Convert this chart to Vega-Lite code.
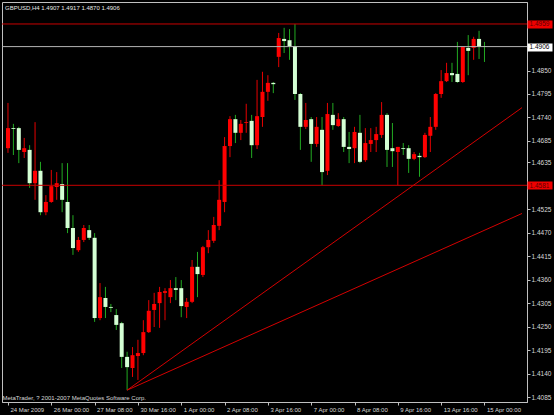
{
  "$schema": "https://vega.github.io/schema/vega-lite/v6.json",
  "width": 525,
  "height": 400,
  "autosize": "none",
  "padding": {"left": 2, "top": 2, "right": 27, "bottom": 13},
  "background": "#000000",
  "config": {
    "view": {"stroke": "#c0c0c0", "strokeWidth": 1, "fill": "#000000"},
    "font": "Liberation Sans"
  },
  "title": {
    "text": "GBPUSD,H4  1.4907 1.4917 1.4870 1.4906",
    "anchor": "start",
    "frame": "group",
    "baseline": "top",
    "offset": -9,
    "dx": 3,
    "font": "Liberation Sans",
    "fontSize": 6,
    "fontWeight": "normal",
    "color": "#e6e6e6"
  },
  "resolve": {"axis": {"y": "independent"}},
  "datasets": {
    "candles": [
      {"i": 0, "open": 1.4668, "high": 1.4774, "low": 1.4657, "close": 1.4715},
      {"i": 1, "open": 1.4715, "high": 1.4725, "low": 1.4652, "close": 1.4713},
      {"i": 2, "open": 1.4715, "high": 1.4718, "low": 1.4633, "close": 1.4664},
      {"i": 3, "open": 1.4659, "high": 1.4692, "low": 1.4645, "close": 1.4668},
      {"i": 4, "open": 1.4664, "high": 1.4675, "low": 1.4575, "close": 1.4586},
      {"i": 5, "open": 1.4586, "high": 1.4729, "low": 1.4547, "close": 1.4615},
      {"i": 6, "open": 1.4615, "high": 1.4636, "low": 1.4511, "close": 1.4518},
      {"i": 7, "open": 1.4518, "high": 1.4558, "low": 1.4511, "close": 1.4542},
      {"i": 8, "open": 1.4542, "high": 1.4617, "low": 1.4540, "close": 1.4579},
      {"i": 9, "open": 1.4577, "high": 1.4612, "low": 1.4547, "close": 1.4586},
      {"i": 10, "open": 1.4584, "high": 1.4633, "low": 1.4518, "close": 1.4547},
      {"i": 11, "open": 1.4542, "high": 1.4633, "low": 1.4469, "close": 1.4481},
      {"i": 12, "open": 1.4481, "high": 1.4511, "low": 1.4418, "close": 1.4434},
      {"i": 13, "open": 1.4429, "high": 1.4460, "low": 1.4425, "close": 1.4453},
      {"i": 14, "open": 1.4453, "high": 1.4488, "low": 1.4448, "close": 1.4481},
      {"i": 15, "open": 1.4476, "high": 1.4488, "low": 1.4453, "close": 1.4458},
      {"i": 16, "open": 1.4458, "high": 1.4469, "low": 1.4261, "close": 1.4270},
      {"i": 17, "open": 1.4270, "high": 1.4352, "low": 1.4265, "close": 1.4319},
      {"i": 18, "open": 1.4317, "high": 1.4343, "low": 1.4270, "close": 1.4296},
      {"i": 19, "open": 1.4296, "high": 1.4303, "low": 1.4284, "close": 1.4294},
      {"i": 20, "open": 1.4277, "high": 1.4291, "low": 1.4242, "close": 1.4254},
      {"i": 21, "open": 1.4258, "high": 1.4261, "low": 1.4153, "close": 1.4179},
      {"i": 22, "open": 1.4179, "high": 1.4191, "low": 1.4101, "close": 1.4155},
      {"i": 23, "open": 1.4153, "high": 1.4202, "low": 1.4132, "close": 1.4183},
      {"i": 24, "open": 1.4181, "high": 1.4219, "low": 1.4125, "close": 1.4188},
      {"i": 25, "open": 1.4188, "high": 1.4265, "low": 1.4183, "close": 1.4237},
      {"i": 26, "open": 1.4237, "high": 1.4312, "low": 1.4235, "close": 1.4287},
      {"i": 27, "open": 1.4289, "high": 1.4329, "low": 1.4249, "close": 1.4303},
      {"i": 28, "open": 1.4305, "high": 1.4343, "low": 1.4247, "close": 1.4331},
      {"i": 29, "open": 1.4329, "high": 1.4340, "low": 1.4265, "close": 1.4333},
      {"i": 30, "open": 1.4319, "high": 1.4359, "low": 1.4305, "close": 1.4340},
      {"i": 31, "open": 1.4340, "high": 1.4366, "low": 1.4312, "close": 1.4336},
      {"i": 32, "open": 1.4340, "high": 1.4359, "low": 1.4272, "close": 1.4298},
      {"i": 33, "open": 1.4296, "high": 1.4317, "low": 1.4270, "close": 1.4308},
      {"i": 34, "open": 1.4308, "high": 1.4406, "low": 1.4305, "close": 1.4390},
      {"i": 35, "open": 1.4390, "high": 1.4425, "low": 1.4319, "close": 1.4373},
      {"i": 36, "open": 1.4371, "high": 1.4439, "low": 1.4366, "close": 1.4436},
      {"i": 37, "open": 1.4436, "high": 1.4476, "low": 1.4422, "close": 1.4453},
      {"i": 38, "open": 1.4451, "high": 1.4507, "low": 1.4446, "close": 1.4488},
      {"i": 39, "open": 1.4486, "high": 1.4593, "low": 1.4476, "close": 1.4547},
      {"i": 40, "open": 1.4542, "high": 1.4694, "low": 1.4518, "close": 1.4673},
      {"i": 41, "open": 1.4673, "high": 1.4743, "low": 1.4647, "close": 1.4736},
      {"i": 42, "open": 1.4736, "high": 1.4746, "low": 1.4680, "close": 1.4704},
      {"i": 43, "open": 1.4704, "high": 1.4734, "low": 1.4687, "close": 1.4725},
      {"i": 44, "open": 1.4727, "high": 1.4772, "low": 1.4704, "close": 1.4729},
      {"i": 45, "open": 1.4732, "high": 1.4746, "low": 1.4645, "close": 1.4675},
      {"i": 46, "open": 1.4675, "high": 1.4828, "low": 1.4666, "close": 1.4743},
      {"i": 47, "open": 1.4741, "high": 1.4847, "low": 1.4718, "close": 1.4800},
      {"i": 48, "open": 1.4800, "high": 1.4839, "low": 1.4779, "close": 1.4821},
      {"i": 49, "open": 1.4821, "high": 1.4823, "low": 1.4797, "close": 1.4818},
      {"i": 50, "open": 1.4882, "high": 1.4938, "low": 1.4858, "close": 1.4926},
      {"i": 51, "open": 1.4924, "high": 1.4950, "low": 1.4891, "close": 1.4919},
      {"i": 52, "open": 1.4921, "high": 1.4947, "low": 1.4875, "close": 1.4907},
      {"i": 53, "open": 1.4907, "high": 1.4959, "low": 1.4781, "close": 1.4795},
      {"i": 54, "open": 1.4795, "high": 1.4797, "low": 1.4664, "close": 1.4718},
      {"i": 55, "open": 1.4718, "high": 1.4774, "low": 1.4713, "close": 1.4734},
      {"i": 56, "open": 1.4736, "high": 1.4741, "low": 1.4636, "close": 1.4678},
      {"i": 57, "open": 1.4678, "high": 1.4741, "low": 1.4671, "close": 1.4718},
      {"i": 58, "open": 1.4711, "high": 1.4741, "low": 1.4581, "close": 1.4612},
      {"i": 59, "open": 1.4615, "high": 1.4774, "low": 1.4605, "close": 1.4748},
      {"i": 60, "open": 1.4746, "high": 1.4774, "low": 1.4711, "close": 1.4722},
      {"i": 61, "open": 1.4720, "high": 1.4750, "low": 1.4718, "close": 1.4736},
      {"i": 62, "open": 1.4736, "high": 1.4741, "low": 1.4659, "close": 1.4671},
      {"i": 63, "open": 1.4671, "high": 1.4706, "low": 1.4633, "close": 1.4666},
      {"i": 64, "open": 1.4668, "high": 1.4718, "low": 1.4633, "close": 1.4706},
      {"i": 65, "open": 1.4704, "high": 1.4746, "low": 1.4633, "close": 1.4636},
      {"i": 66, "open": 1.4640, "high": 1.4715, "low": 1.4636, "close": 1.4680},
      {"i": 67, "open": 1.4678, "high": 1.4715, "low": 1.4659, "close": 1.4687},
      {"i": 68, "open": 1.4687, "high": 1.4718, "low": 1.4659, "close": 1.4701},
      {"i": 69, "open": 1.4699, "high": 1.4776, "low": 1.4692, "close": 1.4746},
      {"i": 70, "open": 1.4746, "high": 1.4750, "low": 1.4624, "close": 1.4664},
      {"i": 71, "open": 1.4668, "high": 1.4727, "low": 1.4624, "close": 1.4661},
      {"i": 72, "open": 1.4659, "high": 1.4671, "low": 1.4581, "close": 1.4671},
      {"i": 73, "open": 1.4668, "high": 1.4680, "low": 1.4652, "close": 1.4666},
      {"i": 74, "open": 1.4668, "high": 1.4675, "low": 1.4610, "close": 1.4643},
      {"i": 75, "open": 1.4643, "high": 1.4659, "low": 1.4640, "close": 1.4654},
      {"i": 76, "open": 1.4650, "high": 1.4657, "low": 1.4601, "close": 1.4647},
      {"i": 77, "open": 1.4647, "high": 1.4704, "low": 1.4645, "close": 1.4699},
      {"i": 78, "open": 1.4697, "high": 1.4741, "low": 1.4659, "close": 1.4718},
      {"i": 79, "open": 1.4718, "high": 1.4797, "low": 1.4711, "close": 1.4795},
      {"i": 80, "open": 1.4795, "high": 1.4851, "low": 1.4786, "close": 1.4825},
      {"i": 81, "open": 1.4825, "high": 1.4868, "low": 1.4823, "close": 1.4844},
      {"i": 82, "open": 1.4844, "high": 1.4868, "low": 1.4823, "close": 1.4839},
      {"i": 83, "open": 1.4842, "high": 1.4917, "low": 1.4821, "close": 1.4823},
      {"i": 84, "open": 1.4823, "high": 1.4905, "low": 1.4821, "close": 1.4905},
      {"i": 85, "open": 1.4903, "high": 1.4933, "low": 1.4839, "close": 1.4896},
      {"i": 86, "open": 1.4903, "high": 1.4929, "low": 1.4875, "close": 1.4924},
      {"i": 87, "open": 1.4924, "high": 1.4943, "low": 1.4877, "close": 1.4905},
      {"i": 88, "open": 1.4907, "high": 1.4917, "low": 1.4870, "close": 1.4906}
    ],
    "levels": [
      {"name": "resistance", "price": 1.4959},
      {"name": "bid", "price": 1.4906},
      {"name": "support", "price": 1.4581}
    ],
    "trendlines": [
      {"line": "upper", "i": 22, "price": 1.4101},
      {"line": "upper", "i": 94.93, "price": 1.4763},
      {"line": "lower", "i": 22, "price": 1.4101},
      {"line": "lower", "i": 94.93, "price": 1.4515}
    ]
  },
  "layer": [
    {
      "data": {"name": "candles"},
      "mark": {"type": "rule", "strokeWidth": 1},
      "encoding": {
        "x": {
          "field": "i",
          "type": "quantitative",
          "scale": {"domain": [-0.181, 94.93], "nice": false, "zero": false},
          "axis": {
            "values": [0, 8, 16, 24, 32, 40, 48, 56, 64, 72, 80, 88],
            "labelExpr": "['24 Mar 2009','26 Mar 00:00','27 Mar 08:00','30 Mar 16:00','1 Apr 00:00','2 Apr 08:00','3 Apr 16:00','7 Apr 00:00','8 Apr 08:00','9 Apr 16:00','13 Apr 16:00','15 Apr 00:00'][round(datum.value / 8)]",
            "grid": false,
            "domainColor": "#c0c0c0",
            "tickColor": "#c0c0c0",
            "tickSize": 3,
            "labelFont": "Liberation Sans",
            "labelFontSize": 6,
            "labelColor": "#d8d8d8",
            "labelAlign": "left",
            "labelBaseline": "top",
            "labelPadding": 1,
            "labelOffset": 2,
            "labelOverlap": false,
            "labelFlush": false,
            "title": "MetaTrader, ? 2001-2007 MetaQuotes Software Corp.",
            "titleFont": "Liberation Sans",
            "titleFontSize": 6,
            "titleFontWeight": "normal",
            "titleColor": "#d8d8d8",
            "titleAnchor": "start",
            "titleAlign": "left",
            "titleBaseline": "top",
            "titlePadding": -18
          }
        },
        "y": {
          "field": "low",
          "type": "quantitative",
          "scale": {"domain": [1.40733, 1.50105], "nice": false, "zero": false},
          "axis": {
            "orient": "right",
            "values": [1.4085, 1.414, 1.4195, 1.425, 1.4305, 1.436, 1.4415, 1.447, 1.4525, 1.4635, 1.4685, 1.474, 1.4795, 1.485],
            "format": ".4f",
            "grid": false,
            "title": null,
            "domainColor": "#c0c0c0",
            "tickColor": "#c0c0c0",
            "tickSize": 3,
            "labelPadding": 1,
            "labelFont": "Liberation Sans",
            "labelFontSize": 6.5,
            "labelColor": "#d8d8d8",
            "labelOverlap": false,
            "labelBaseline": "middle"
          }
        },
        "y2": {"field": "high"},
        "color": {
          "condition": {"test": "datum.close >= datum.open", "value": "#e60000"},
          "value": "#22aa22"
        }
      }
    },
    {
      "data": {"name": "candles"},
      "mark": {"type": "bar", "size": 4},
      "encoding": {
        "x": {"field": "i", "type": "quantitative", "scale": {"domain": [-0.181, 94.93], "nice": false, "zero": false}},
        "y": {"field": "open", "type": "quantitative", "scale": {"domain": [1.40733, 1.50105], "nice": false, "zero": false}, "axis": null},
        "y2": {"field": "close"},
        "color": {
          "condition": {"test": "datum.close >= datum.open", "value": "#ff0000"},
          "value": "#d4ffd4"
        }
      }
    },
    {
      "data": {"name": "levels"},
      "mark": {"type": "rule", "strokeWidth": 1},
      "encoding": {
        "y": {
          "field": "price",
          "type": "quantitative",
          "scale": {"domain": [1.40733, 1.50105], "nice": false, "zero": false},
          "axis": {
            "orient": "right",
            "values": [1.4581, 1.4906, 1.4959],
            "format": ".4f",
            "grid": false,
            "title": null,
            "domain": false,
            "tickSize": 25,
            "tickWidth": 8,
            "tickColor": {
              "condition": {"test": "abs(datum.value - 1.4906) < 0.00001", "value": "#ffffff"},
              "value": "#ee0000"
            },
            "labelPadding": -23,
            "labelFont": "Liberation Sans",
            "labelFontSize": 6.5,
            "labelOverlap": false,
            "labelBaseline": "middle",
            "labelColor": {
              "condition": {"test": "abs(datum.value - 1.4906) < 0.00001", "value": "#000000"},
              "value": "#5a0000"
            }
          }
        },
        "color": {
          "field": "name",
          "type": "nominal",
          "scale": {"domain": ["resistance", "bid", "support"], "range": ["#c80000", "#b4b4b4", "#c80000"]},
          "legend": null
        }
      }
    },
    {
      "data": {"name": "trendlines"},
      "mark": {"type": "line", "strokeWidth": 1, "color": "#d40000", "clip": true},
      "encoding": {
        "x": {"field": "i", "type": "quantitative", "scale": {"domain": [-0.181, 94.93], "nice": false, "zero": false}},
        "y": {"field": "price", "type": "quantitative", "scale": {"domain": [1.40733, 1.50105], "nice": false, "zero": false}, "axis": null},
        "detail": {"field": "line", "type": "nominal"}
      }
    }
  ]
}
